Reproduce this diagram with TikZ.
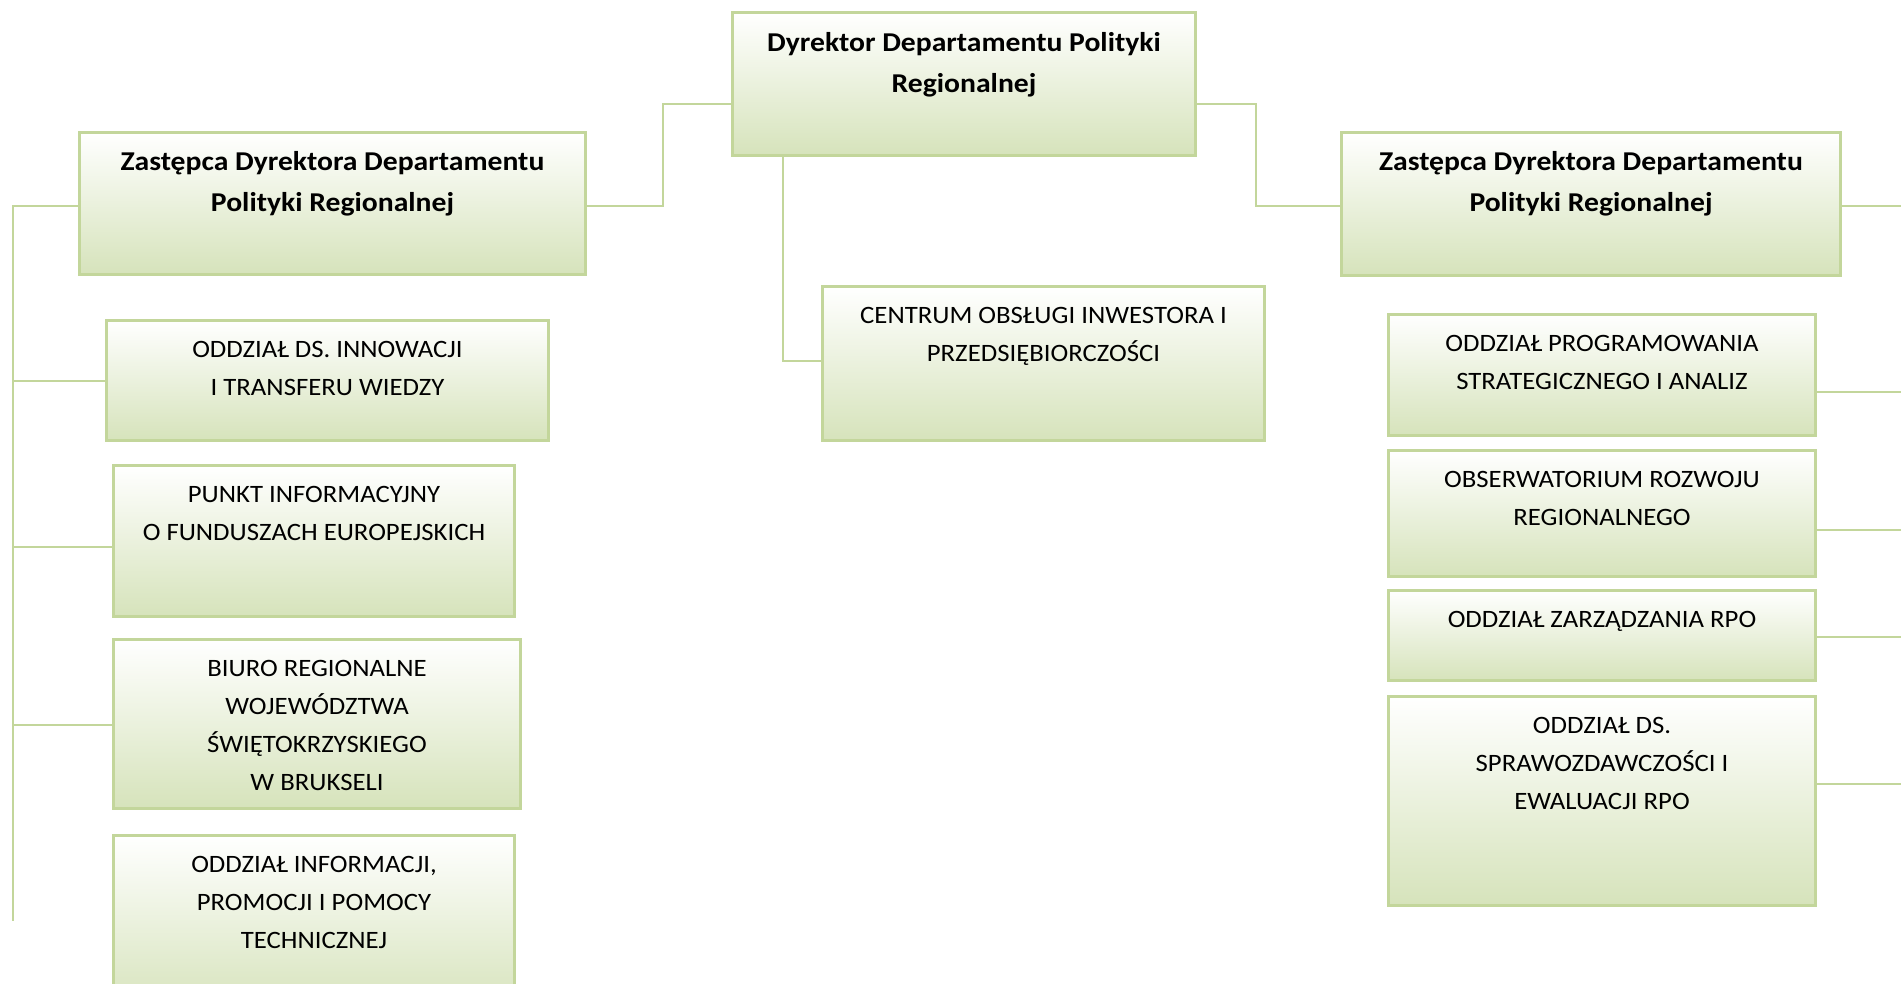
\documentclass[tikz,border=0pt]{standalone}
\usepackage{fontspec}
\setmainfont{Carlito}
\newfontfamily\regf{Carlito}[FakeStretch=1.07]
\newfontfamily\boldf{Carlito}[FakeStretch=1.09]
\definecolor{bord}{RGB}{195,214,155}
\definecolor{fillg}{RGB}{214,227,187}
\begin{document}
\begin{tikzpicture}[x=1pt,y=-1pt,
  box/.style={draw=bord, line width=3pt, top color=white, bottom color=fillg,
    inner sep=0pt, anchor=north west, rectangle},
  conn/.style={draw=bord, line width=2.5pt},
  lbl/.style={anchor=north, inner sep=0pt, align=center,
    font=\regf\fontsize{25}{38}\selectfont, text=black},
  blbl/.style={lbl, font=\boldf\bfseries\fontsize{27.2}{41}\selectfont}]
\useasboundingbox (0,0) rectangle (1901,984);
% boxes
\node[box, minimum width=463pt, minimum height=143pt] (dir) at (731,11) {};
\node[box, minimum width=506pt, minimum height=142pt] (depL) at (78,131) {};
\node[box, minimum width=499pt, minimum height=143pt] (depR) at (1340,131) {};
\node[box, minimum width=442pt, minimum height=120pt] (innow) at (105,319) {};
\node[box, minimum width=401pt, minimum height=151pt] (punkt) at (112,464) {};
\node[box, minimum width=407pt, minimum height=169pt] (biuro) at (112,638) {};
\node[box, minimum width=401pt, minimum height=176pt] (info) at (112,834) {};
\node[box, minimum width=442pt, minimum height=154pt] (centrum) at (821,285) {};
\node[box, minimum width=427pt, minimum height=121pt] (prog) at (1387,313) {};
\node[box, minimum width=427pt, minimum height=126pt] (obs) at (1387,449) {};
\node[box, minimum width=427pt, minimum height=90pt] (zarz) at (1387,589) {};
\node[box, minimum width=427pt, minimum height=209pt] (spraw) at (1387,695) {};
% texts
\node[blbl, yshift=-12pt] (dirT) at (dir.north) {\strut Dyrektor Departamentu Polityki\\Regionalnej};
\node[blbl, yshift=-10.5pt] (depLT) at (depL.north) {\strut Zastępca Dyrektora Departamentu\\Polityki Regionalnej};
\node[blbl, yshift=-10.5pt] (depRT) at (depR.north) {\strut Zastępca Dyrektora Departamentu\\Polityki Regionalnej};
\node[lbl, yshift=-11.4pt] (innowT) at (innow.north) {\strut ODDZIAŁ DS. INNOWACJI\\I TRANSFERU WIEDZY};
\node[lbl, yshift=-11.4pt] (punktT) at (punkt.north) {\strut PUNKT INFORMACYJNY\\O FUNDUSZACH EUROPEJSKICH};
\node[lbl, yshift=-11.4pt] (biuroT) at (biuro.north) {\strut BIURO REGIONALNE\\WOJEWÓDZTWA\\ŚWIĘTOKRZYSKIEGO\\W BRUKSELI};
\node[lbl, yshift=-11.4pt] (infoT) at (info.north) {\strut ODDZIAŁ INFORMACJI,\\PROMOCJI I POMOCY\\TECHNICZNEJ};
\node[lbl, yshift=-11.4pt] (centrumT) at (centrum.north) {\strut CENTRUM OBSŁUGI INWESTORA I\\PRZEDSIĘBIORCZOŚCI};
\node[lbl, yshift=-11.4pt] (progT) at (prog.north) {\strut ODDZIAŁ PROGRAMOWANIA\\STRATEGICZNEGO I ANALIZ};
\node[lbl, yshift=-11.4pt] (obsT) at (obs.north) {\strut OBSERWATORIUM ROZWOJU\\REGIONALNEGO};
\node[lbl, yshift=-11.4pt] (zarzT) at (zarz.north) {\strut ODDZIAŁ ZARZĄDZANIA RPO};
\node[lbl, yshift=-11.4pt] (sprawT) at (spraw.north) {\strut ODDZIAŁ DS.\\SPRAWOZDAWCZOŚCI I\\EWALUACJI RPO};
% junction coordinates
\coordinate (jL) at (663,104);
\coordinate (jL2) at (663,206);
\coordinate (jR) at (1256,104);
\coordinate (jR2) at (1256,206);
\coordinate (jC) at (783,361);
\coordinate (busTop) at (13,206);
\coordinate (busBot) at (13,921);
\coordinate (bInnow) at (13,381);
\coordinate (bPunkt) at (13,547);
\coordinate (bBiuro) at (13,725);
\coordinate (eDep) at (1901,206);
\coordinate (eProg) at (1901,392);
\coordinate (eObs) at (1901,530);
\coordinate (eZarz) at (1901,637);
\coordinate (eSpraw) at (1901,784);
% connectors
\draw[conn] (dir.west |- jL) -- (jL) -- (jL2) -- (depL.east |- jL2);
\draw[conn] (dir.east |- jR) -- (jR) -- (jR2) -- (depR.west |- jR2);
\draw[conn] (dir.south -| jC) -- (jC) -- (centrum.west |- jC);
\draw[conn] (depL.west |- busTop) -- (busTop) -- (busBot);
\draw[conn] (bInnow) -- (innow.west |- bInnow);
\draw[conn] (bPunkt) -- (punkt.west |- bPunkt);
\draw[conn] (bBiuro) -- (biuro.west |- bBiuro);
\draw[conn] (depR.east |- eDep) -- (eDep);
\draw[conn] (prog.east |- eProg) -- (eProg);
\draw[conn] (obs.east |- eObs) -- (eObs);
\draw[conn] (zarz.east |- eZarz) -- (eZarz);
\draw[conn] (spraw.east |- eSpraw) -- (eSpraw);
\end{tikzpicture}
\end{document}
